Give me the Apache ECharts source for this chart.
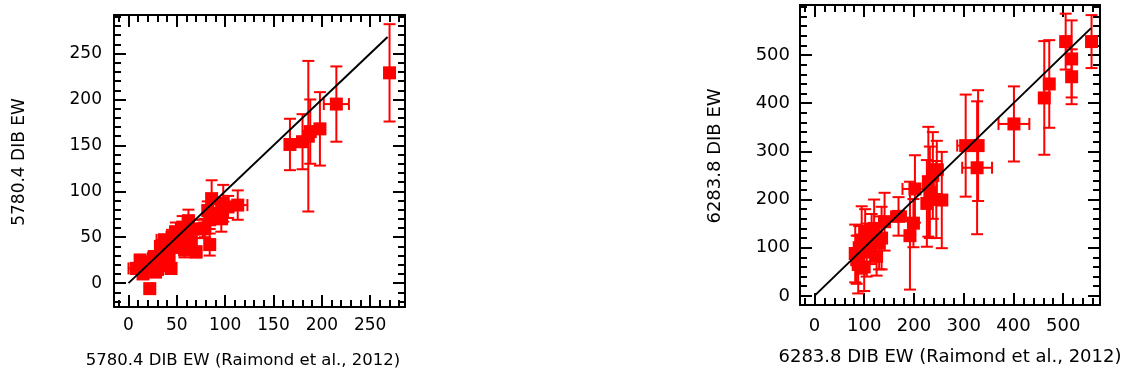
<!DOCTYPE html>
<html>
<head>
<meta charset="utf-8">
<script src="https://cdn.jsdelivr.net/npm/echarts@6/dist/echarts.min.js"></script>
<style>
html,body{margin:0;padding:0;background:#fff}
#chart{width:1128px;height:378px}
</style>
</head>
<body>
<div id="chart"></div>
<script>
// 5780.4 DIB (left panel): this work vs Raimond et al. 2012
var x5780  = [270, 215, 198, 186, 188, 180, 167, 113, 103, 98, 96, 91, 86, 84, 84, 79, 70, 67, 58, 56, 55, 49, 48, 37, 37, 44, 37, 26, 18, 8, 22, 30, 42, 52, 60, 62, 45, 33, 28, 15, 12, 65, 40, 82, 77];
var y5780  = [229, 195, 168, 160, 165, 154, 151, 85, 83, 87, 70, 76, 92, 69, 42, 60, 34, 59, 36, 61, 43, 56, 41, 47, 36, 16, 21, 27, 21, 16, -6, 15, 30, 48, 50, 68, 50, 40, 12, 10, 25, 45, 25, 79, 59];
var xe5780 = [4, 13, 3, 3, 3, 3, 3, 10, 5, 5, 6, 4, 5, 4, 3, 4, 4, 5, 4, 5, 6, 6, 5, 8, 4, 5, 6, 6, 5, 8, 2, 4, 5, 5, 5, 5, 5, 5, 4, 5, 4, 5, 5, 4, 4];
var ye5780 = [53, 41, 40, 82, 35, 30, 28, 16, 12, 20, 14, 10, 20, 10, 12, 10, 6, 10, 8, 12, 10, 10, 8, 6, 8, 6, 8, 8, 8, 6, 3, 6, 8, 10, 10, 12, 8, 6, 5, 5, 6, 8, 7, 10, 10];
var fit5780 = [0, 268];
var ticks5780 = [0, 50, 100, 150, 200, 250];

// 6283.8 DIB (right panel)
var x6283  = [557, 505, 517, 517, 472, 462, 401, 304, 329, 327, 246, 229, 256, 226, 202, 199, 192, 169, 141, 135, 112, 95, 85, 82, 102, 125, 90, 105, 115, 120, 88, 238, 245, 232, 100, 130];
var y6283  = [528, 528, 492, 455, 440, 411, 357, 312, 312, 266, 262, 237, 199, 192, 222, 151, 125, 165, 154, 120, 106, 116, 75, 88, 130, 82, 100, 95, 125, 140, 65, 250, 200, 215, 60, 110];
var xe6283 = [4, 6, 4, 4, 6, 4, 31, 17, 5, 30, 12, 8, 8, 8, 25, 6, 5, 15, 8, 6, 8, 8, 5, 5, 6, 6, 5, 6, 6, 6, 4, 6, 6, 6, 5, 6];
var ye6283 = [55, 58, 80, 57, 91, 118, 78, 106, 115, 138, 60, 114, 100, 90, 70, 50, 112, 40, 60, 65, 40, 70, 50, 60, 50, 40, 45, 55, 45, 60, 60, 90, 80, 95, 50, 55];
var fit6283 = [0, 556];
var ticks6283 = [0, 100, 200, 300, 400, 500];

function steps(a, b, s) {
  var out = [];
  for (var v = a; v <= b; v += s) out.push(v);
  return out;
}

var FONT = 'DejaVu Sans';

// 4 axes per dimension: labelled major, minor, mirrored major, mirrored minor
function axes(grid, lo, hi, min, max, major, minor, fs, margin) {
  function one(pos, vals, len, line, label) {
    return {
      type: 'value', gridIndex: grid, position: pos, min: min, max: max,
      splitLine: {show: false},
      axisLine: {show: line, onZero: false, lineStyle: {color: '#000', width: 2}},
      axisTick: {show: true, inside: true, length: len, customValues: vals,
                 lineStyle: {color: '#000', width: 2}},
      axisLabel: {show: label, customValues: major, fontSize: fs, color: '#000',
                  fontFamily: FONT, margin: margin}
    };
  }
  return [
    one(lo, major, 12, true, true),
    one(lo, minor, 7, false, false),
    one(hi, major, 12, true, false),
    one(hi, minor, 7, false, false)
  ];
}

function pairs(xs, ys) {
  return xs.map(function (v, i) { return [v, ys[i]]; });
}
function errRows(xs, ys, xe, ye) {
  return xs.map(function (v, i) { return [v, ys[i], xe[i], ye[i]]; });
}

function renderErr(params, api) {
  var x = api.value(0), y = api.value(1), ex = api.value(2), ey = api.value(3);
  var top = api.coord([x, y + ey]), bot = api.coord([x, y - ey]);
  var lft = api.coord([x - ex, y]), rgt = api.coord([x + ex, y]);
  var c = 6;
  var st = {stroke: '#ff0000', lineWidth: 2};
  return {
    type: 'group',
    children: [
      {type: 'line', shape: {x1: top[0], y1: top[1], x2: bot[0], y2: bot[1]}, style: st},
      {type: 'line', shape: {x1: top[0] - c, y1: top[1], x2: top[0] + c, y2: top[1]}, style: st},
      {type: 'line', shape: {x1: bot[0] - c, y1: bot[1], x2: bot[0] + c, y2: bot[1]}, style: st},
      {type: 'line', shape: {x1: lft[0], y1: lft[1], x2: rgt[0], y2: rgt[1]}, style: st},
      {type: 'line', shape: {x1: lft[0], y1: lft[1] - c, x2: lft[0], y2: lft[1] + c}, style: st},
      {type: 'line', shape: {x1: rgt[0], y1: rgt[1] - c, x2: rgt[0], y2: rgt[1] + c}, style: st}
    ]
  };
}

var chart = echarts.init(document.getElementById('chart'));
var option = {
  animation: false,
  grid: [
    {left: 114, top: 15, width: 291, height: 292},
    {left: 800, top: 5, width: 300, height: 300}
  ],
  xAxis: [].concat(
    axes(0, 'bottom', 'top', -15, 286, ticks5780, steps(-10, 280, 10), 17, 10),
    axes(1, 'bottom', 'top', -29, 574, ticks6283, steps(-20, 560, 20), 18, 12)
  ),
  yAxis: [].concat(
    axes(0, 'left', 'right', -26, 292, ticks5780, steps(-20, 290, 10), 17, 12),
    axes(1, 'left', 'right', -19, 604, ticks6283, steps(0, 600, 20), 18, 10)
  ),
  graphic: [
    {type: 'text', x: 20, y: 162, rotation: Math.PI / 2,
     style: {text: '5780.4 DIB EW', font: '17px "DejaVu Sans"', fill: '#000', align: 'center', verticalAlign: 'middle'}},
    {type: 'text', x: 243, y: 361,
     style: {text: '5780.4 DIB EW (Raimond et al., 2012)', font: '16.5px "DejaVu Sans"', fill: '#000', align: 'center', verticalAlign: 'middle'}},
    {type: 'text', x: 715, y: 156, rotation: Math.PI / 2,
     style: {text: '6283.8 DIB EW', font: '18px "DejaVu Sans"', fill: '#000', align: 'center', verticalAlign: 'middle'}},
    {type: 'text', x: 950, y: 357,
     style: {text: '6283.8 DIB EW (Raimond et al., 2012)', font: '18px "DejaVu Sans"', fill: '#000', align: 'center', verticalAlign: 'middle'}}
  ],
  series: [
    {type: 'custom', xAxisIndex: 0, yAxisIndex: 0, renderItem: renderErr,
     data: errRows(x5780, y5780, xe5780, ye5780), z: 2},
    {type: 'scatter', xAxisIndex: 0, yAxisIndex: 0, symbol: 'rect', symbolSize: 13,
     itemStyle: {color: '#ff0000', opacity: 1}, data: pairs(x5780, y5780), z: 3},
    {type: 'line', xAxisIndex: 0, yAxisIndex: 0, showSymbol: false, symbol: 'none',
     lineStyle: {color: '#000', width: 2}, data: pairs(fit5780, fit5780), z: 4},
    {type: 'custom', xAxisIndex: 4, yAxisIndex: 4, renderItem: renderErr,
     data: errRows(x6283, y6283, xe6283, ye6283), z: 2},
    {type: 'scatter', xAxisIndex: 4, yAxisIndex: 4, symbol: 'rect', symbolSize: 13,
     itemStyle: {color: '#ff0000', opacity: 1}, data: pairs(x6283, y6283), z: 3},
    {type: 'line', xAxisIndex: 4, yAxisIndex: 4, showSymbol: false, symbol: 'none',
     lineStyle: {color: '#000', width: 2}, data: pairs(fit6283, fit6283), z: 4}
  ]
};
chart.setOption(option);
</script>
</body>
</html>
